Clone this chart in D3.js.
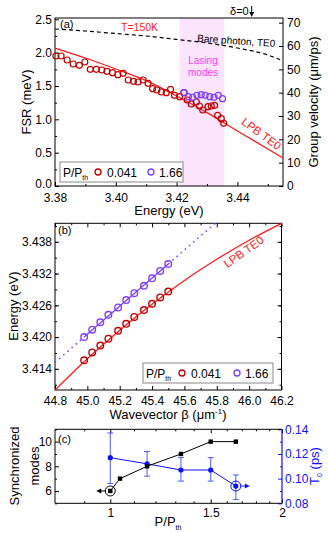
<!DOCTYPE html>
<html>
<head>
<meta charset="utf-8">
<script src="https://cdn.jsdelivr.net/npm/d3@7"></script>
<style>
body{margin:0;background:#fff}
svg{display:block;font-family:"Liberation Sans",Arial,sans-serif}
</style>
</head>
<body>
<script>
// ---- panel (a): FSR vs energy
const energyA041 = [3.3803,3.3820,3.3840,3.3860,3.3880,3.3898,3.3916,3.3936,3.3954,3.3971,3.3989,3.4007,3.4024,3.4041,3.4058,3.4073,3.4090,3.4106,3.4121,3.4135,3.4150,3.4166,3.4180,3.4193,3.4210,3.4224,3.4235,3.4248,3.4265,3.4275,3.4286,3.4303,3.4314,3.4325,3.4335,3.4347,3.4355]
const fsrA041 = [1.95,1.95,1.89,1.83,1.81,1.86,1.75,1.75,1.74,1.72,1.70,1.67,1.69,1.59,1.57,1.56,1.59,1.54,1.46,1.44,1.41,1.40,1.45,1.36,1.34,1.40,1.29,1.23,1.26,1.20,1.14,1.19,1.20,1.21,1.06,1.01,0.94]
const energyA166 = [3.4225,3.4239,3.4253,3.4267,3.4281,3.4294,3.4309,3.4323,3.4337,3.4351]
const fsrA166 = [1.40,1.34,1.33,1.36,1.37,1.36,1.34,1.33,1.36,1.31]
const lpbEnergyA = [3.38,3.39,3.40,3.41,3.42,3.43,3.44,3.455]
const lpbFsrA = [2.07,1.92,1.755,1.58,1.35,1.10,0.825,0.42]
const bareEnergy = [3.38,3.39,3.40,3.41,3.42,3.43,3.44,3.45,3.455]
const bareFsr = [2.355,2.325,2.287,2.25,2.198,2.145,2.07,1.965,1.875]
const lasingBand = [3.421,3.4357]

// ---- panel (b): dispersion
const betaB = [44.98,45.03,45.08,45.13,45.19,45.24,45.29,45.35,45.40,45.45,45.50]
const energyB041 = [3.4156,3.4171,3.4184,3.4197,3.4212,3.4225,3.4238,3.4251,3.4263,3.4275,3.4286]
const energyB166 = [3.4200,3.4214,3.4228,3.4242,3.4256,3.4270,3.4283,3.4297,3.4311,3.4325,3.4338]
const lpbBeta = [44.8,45.0,45.2,45.4,45.6,45.8,46.0,46.2]
const lpbEnergyB = [3.4100,3.4159,3.4213,3.4262,3.4307,3.4347,3.4383,3.4415]
const fitBeta = [44.8,44.98,45.50,45.79]
const fitEnergy = [3.4152,3.4200,3.4338,3.4415]

// ---- panel (c): synchronisation vs pump
const syncP = [1,1.04,1.16,1.33,1.5,1.66]
const syncModes = [6,7,8,9,10,10]
const t0P = [1,1.16,1.33,1.5,1.66]
const t0 = [0.117,0.112,0.107,0.107,0.094]
const t0Lo = [0.096,0.102,0.098,0.098,0.083]
const t0Hi = [0.137,0.122,0.117,0.117,0.103]

const RED = "#ff1a1a", DARKRED = "#c00000", PURPLE = "#7f3fff", BLUE = "#1010ff"

const svg = d3.select("body").append("svg").attr("width",328).attr("height",533)
svg.append("rect").attr("width",328).attr("height",533).attr("fill","#fff")

const zip = (a,b) => a.map((d,i)=>[d,b[i]])

// draws an axis with inward ticks, no domain line
function drawAxis(transform, axis, color, fs) {
    const g = svg.append("g").attr("transform",transform).call(axis)
    g.attr("font-family",null).attr("font-size",null)
    g.select(".domain").remove()
    g.selectAll("line").attr("stroke",color||"#000")
    g.selectAll("text").attr("fill",color||"#000").style("font-size",(fs||12)+"px")
    return g
}
function label(x,y,txt,opt) {
    opt = opt || {}
    const t = svg.append("text")
        .attr("transform",`translate(${x},${y}) rotate(${opt.rot||0})`)
        .attr("text-anchor",opt.anchor||"middle")
        .attr("fill",opt.color||"#000")
        .style("font-size",(opt.size||13)+"px")
        .text(txt)
    return t
}
function sub(t,s,dy) {
    t.append("tspan").attr("dy",dy||3).style("font-size","7px").text(s)
    return t
}
function legend(x,y,w,cx1,cx2) {
    svg.append("rect").attr("x",x).attr("y",y).attr("width",w).attr("height",20)
        .attr("fill","#fff").attr("stroke","#888").attr("stroke-width",1)
    sub(label(x+3,y+15,"P/P",{anchor:"start",size:12}),"th",3)
    svg.append("circle").attr("cx",cx1).attr("cy",y+10).attr("r",3)
        .attr("fill","none").attr("stroke",DARKRED).attr("stroke-width",1.3)
    label(cx1+9,y+15,"0.041",{anchor:"start",size:12})
    svg.append("circle").attr("cx",cx2).attr("cy",y+10).attr("r",3)
        .attr("fill","none").attr("stroke",PURPLE).attr("stroke-width",1.3)
    label(cx2+8,y+15,"1.66",{anchor:"start",size:12})
}

// =================== panel (a)
const xA = d3.scaleLinear().domain([3.38,3.455]).range([55,283])
const yA = d3.scaleLinear().domain([0,2.52]).range([186,18])
const gvA = d3.scaleLinear().domain([0,72]).range([186,18])

svg.append("rect").attr("x",xA(lasingBand[0])).attr("y",18)
    .attr("width",xA(lasingBand[1])-xA(lasingBand[0])).attr("height",168)
    .attr("fill","#fde4fd")

const leftA = drawAxis("translate(55,0)", d3.axisLeft(yA).tickValues(d3.range(0,2.51,0.5)).tickFormat(d3.format(".1f")).tickSizeInner(-4).tickSizeOuter(0).tickPadding(3))
// lift the 0.0 label a touch so it clears the 3.38 below it
leftA.selectAll(".tick text").filter(d=>d===0).attr("dy","0.15em")
drawAxis("translate(55,0)", d3.axisLeft(yA).tickValues(d3.range(0.25,2.5,0.5)).tickFormat("").tickSize(-2))
drawAxis("translate(283,0)", d3.axisRight(gvA).tickValues(d3.range(0,71,10)).tickSizeInner(-4).tickSizeOuter(0).tickPadding(4))
drawAxis("translate(0,186)", d3.axisBottom(xA).tickValues([3.38,3.40,3.42,3.44]).tickFormat(d3.format(".2f")).tickSizeInner(-4).tickSizeOuter(0).tickPadding(7))
drawAxis("translate(0,186)", d3.axisBottom(xA).tickValues([3.39,3.41,3.43,3.45]).tickFormat("").tickSize(-2))
svg.append("rect").attr("x",55).attr("y",18).attr("width",228).attr("height",168)
    .attr("fill","none").attr("stroke","#000").attr("stroke-width",1)

const lineA = d3.line().x(d=>xA(d[0])).y(d=>yA(d[1])).curve(d3.curveMonotoneX)
svg.append("path").datum(zip(bareEnergy,bareFsr)).attr("d",lineA)
    .attr("fill","none").attr("stroke","#000").attr("stroke-width",1.2).attr("stroke-dasharray","4,3")
svg.append("path").datum(zip(lpbEnergyA,lpbFsrA)).attr("d",lineA)
    .attr("fill","none").attr("stroke",RED).attr("stroke-width",1.3)

svg.append("g").selectAll("circle").data(zip(energyA041,fsrA041)).enter().append("circle")
    .attr("cx",d=>xA(d[0])).attr("cy",d=>yA(d[1])).attr("r",3)
    .attr("fill","none").attr("stroke",DARKRED).attr("stroke-width",1.2)
svg.append("g").selectAll("circle").data(zip(energyA166,fsrA166)).enter().append("circle")
    .attr("cx",d=>xA(d[0])).attr("cy",d=>yA(d[1])).attr("r",3)
    .attr("fill","none").attr("stroke",PURPLE).attr("stroke-width",1.2)

label(60,28,"(a)",{anchor:"start",size:11})
label(121,31,"T=150K",{anchor:"start",size:10.5,color:RED})
label(xA(3.4447)-3,15,"δ=0",{anchor:"end",size:11})
svg.append("line").attr("x1",xA(3.4447)).attr("x2",xA(3.4447)).attr("y1",6).attr("y2",13)
    .attr("stroke","#000").attr("stroke-width",1)
svg.append("path").attr("d",`M${xA(3.4447)-2.5},12 L${xA(3.4447)+2.5},12 L${xA(3.4447)},17 Z`).attr("fill","#000")
label(203,64,"Lasing",{size:10,color:"#ff3cff"})
label(203,75.5,"modes",{size:10,color:"#ff3cff"})
label(197,41.5,"Bare photon, TE0",{anchor:"start",size:10,rot:4})
label(259,137,"LPB TE0",{size:11.5,rot:36,color:RED})
legend(60,162,123,98,151)

label(31,102,"FSR (meV)",{rot:-90})
label(318,102,"Group velocity (μm/ps)",{rot:-90})
label(169,215,"Energy (eV)")

// =================== panel (b)
const xB = d3.scaleLinear().domain([44.8,46.2]).range([55,281.5])
const yB = d3.scaleLinear().domain([3.410,3.4415]).range([390,223.3])

const majB = d3.range(3.414,3.4385,0.006), minB = d3.range(3.411,3.4415,0.003)
drawAxis("translate(55,0)", d3.axisLeft(yB).tickValues(majB).tickFormat(d3.format(".3f")).tickSizeInner(-4).tickSizeOuter(0).tickPadding(3))
drawAxis("translate(55,0)", d3.axisLeft(yB).tickValues(minB).tickFormat("").tickSize(-2))
drawAxis("translate(281.5,0)", d3.axisRight(yB).tickValues(majB).tickFormat("").tickSize(-4))
drawAxis("translate(281.5,0)", d3.axisRight(yB).tickValues(minB).tickFormat("").tickSize(-2))
const betaMaj = d3.range(44.8,46.21,0.2), betaMin = d3.range(44.9,46.2,0.2)
drawAxis("translate(0,390)", d3.axisBottom(xB).tickValues(betaMaj).tickFormat(d3.format(".1f")).tickSizeInner(-4).tickSizeOuter(0).tickPadding(6))
drawAxis("translate(0,390)", d3.axisBottom(xB).tickValues(betaMin).tickFormat("").tickSize(-2))
drawAxis("translate(0,223.3)", d3.axisTop(xB).tickValues(betaMaj).tickFormat("").tickSize(-4))
drawAxis("translate(0,223.3)", d3.axisTop(xB).tickValues(betaMin).tickFormat("").tickSize(-2))
svg.append("rect").attr("x",55).attr("y",223.3).attr("width",226.5).attr("height",166.7)
    .attr("fill","none").attr("stroke","#000").attr("stroke-width",1)

const lineB = d3.line().x(d=>xB(d[0])).y(d=>yB(d[1]))
svg.append("path").datum(zip(lpbBeta,lpbEnergyB)).attr("d",lineB.curve(d3.curveMonotoneX))
    .attr("fill","none").attr("stroke",RED).attr("stroke-width",1.3)
const fit = zip(fitBeta,fitEnergy)
const lineLin = d3.line().x(d=>xB(d[0])).y(d=>yB(d[1]))
svg.append("path").datum(fit.slice(1,3)).attr("d",lineLin)
    .attr("fill","none").attr("stroke",PURPLE).attr("stroke-width",1.3)
svg.append("path").datum(fit.slice(0,2)).attr("d",lineLin)
    .attr("fill","none").attr("stroke",PURPLE).attr("stroke-width",1.6).attr("stroke-dasharray","1.5,4")
svg.append("path").datum(fit.slice(2,4)).attr("d",lineLin)
    .attr("fill","none").attr("stroke",PURPLE).attr("stroke-width",1.6).attr("stroke-dasharray","1.5,4")

svg.append("g").selectAll("circle").data(zip(betaB,energyB041)).enter().append("circle")
    .attr("cx",d=>xB(d[0])).attr("cy",d=>yB(d[1])).attr("r",3.3)
    .attr("fill","none").attr("stroke",DARKRED).attr("stroke-width",1.4)
svg.append("g").selectAll("circle").data(zip(betaB,energyB166)).enter().append("circle")
    .attr("cx",d=>xB(d[0])).attr("cy",d=>yB(d[1])).attr("r",3.3)
    .attr("fill","none").attr("stroke",PURPLE).attr("stroke-width",1.4)

label(58,234,"(b)",{anchor:"start",size:11})
label(246,255,"LPB TE0",{size:11.5,rot:-35,color:RED})
legend(143,363,130,182,237)

label(18,306,"Energy (eV)",{rot:-90})
const wl = label(168,419,"Wavevector β (μm",{size:13})
wl.append("tspan").attr("dy",-5).style("font-size","8px").text("-1")
wl.append("tspan").attr("dy",5).text(")")

// =================== panel (c)
const xC = d3.scaleLog().domain([0.8,2]).range([55,282])
const yC = d3.scaleLinear().domain([5,11]).range([503.3,429.3])
const tC = d3.scaleLinear().domain([0.08,0.14]).range([503.3,429.3])

drawAxis("translate(55,0)", d3.axisLeft(yC).tickValues([6,8,10]).tickFormat(d3.format("d")).tickSizeInner(-4).tickSizeOuter(0).tickPadding(3))
drawAxis("translate(55,0)", d3.axisLeft(yC).tickValues([5,7,9,11]).tickFormat("").tickSize(-2))
drawAxis("translate(282,0)", d3.axisRight(tC).tickValues([0.08,0.10,0.12,0.14]).tickFormat(d3.format(".2f")).tickSizeInner(-4).tickSizeOuter(0).tickPadding(3), BLUE)
drawAxis("translate(282,0)", d3.axisRight(tC).tickValues([0.09,0.11,0.13]).tickFormat("").tickSize(-2), BLUE)
const pMin = [0.9,1.1,1.2,1.3,1.4,1.6,1.7,1.8,1.9]
drawAxis("translate(0,503.3)", d3.axisBottom(xC).tickValues([1,1.5,2]).tickFormat(d=>d).tickSizeInner(-4).tickSizeOuter(0).tickPadding(5))
drawAxis("translate(0,503.3)", d3.axisBottom(xC).tickValues(pMin).tickFormat("").tickSize(-2))
drawAxis("translate(0,429.3)", d3.axisTop(xC).tickValues([1,1.5,2]).tickFormat("").tickSize(-4))
drawAxis("translate(0,429.3)", d3.axisTop(xC).tickValues(pMin).tickFormat("").tickSize(-2))
svg.append("path").attr("d","M282,429.3 H55 V503.3 H282").attr("fill","none").attr("stroke","#000")
svg.append("line").attr("x1",282).attr("x2",282).attr("y1",429.3).attr("y2",503.3).attr("stroke",BLUE).attr("stroke-width",1.2)

// blue T0 with error bars
const t0Data = t0P.map((p,i)=>({p:p,v:t0[i],lo:t0Lo[i],hi:t0Hi[i]}))
svg.append("path").datum(t0Data).attr("d",d3.line().x(d=>xC(d.p)).y(d=>tC(d.v)))
    .attr("fill","none").attr("stroke",BLUE).attr("stroke-width",1)
const eb = svg.append("g").selectAll("g").data(t0Data).enter().append("g")
eb.append("line").attr("x1",d=>xC(d.p)).attr("x2",d=>xC(d.p)).attr("y1",d=>tC(d.lo)).attr("y2",d=>tC(d.hi))
    .attr("stroke","#4a5cff").attr("stroke-width",1)
eb.append("line").attr("x1",d=>xC(d.p)-3).attr("x2",d=>xC(d.p)+3).attr("y1",d=>tC(d.lo)).attr("y2",d=>tC(d.lo))
    .attr("stroke","#4a5cff").attr("stroke-width",1)
eb.append("line").attr("x1",d=>xC(d.p)-3).attr("x2",d=>xC(d.p)+3).attr("y1",d=>tC(d.hi)).attr("y2",d=>tC(d.hi))
    .attr("stroke","#4a5cff").attr("stroke-width",1)
eb.append("circle").attr("cx",d=>xC(d.p)).attr("cy",d=>tC(d.v)).attr("r",2.6).attr("fill",BLUE)

// black synchronized modes
const sync = zip(syncP,syncModes)
svg.append("path").datum(sync).attr("d",d3.line().x(d=>xC(d[0])).y(d=>yC(d[1])))
    .attr("fill","none").attr("stroke","#000").attr("stroke-width",1)
svg.append("g").selectAll("rect").data(sync).enter().append("rect")
    .attr("x",d=>xC(d[0])-2.2).attr("y",d=>yC(d[1])-2.2).attr("width",4.4).attr("height",4.4).attr("fill","#000")

// circled points with arrows pointing to their axes
const s0 = sync[0], tLast = t0Data[t0Data.length-1]
svg.append("circle").attr("cx",xC(s0[0])).attr("cy",yC(s0[1])).attr("r",5).attr("fill","none").attr("stroke","#000").attr("stroke-width",1)
svg.append("line").attr("x1",xC(s0[0])-5).attr("x2",xC(s0[0])-10).attr("y1",yC(s0[1])).attr("y2",yC(s0[1])).attr("stroke","#000")
svg.append("path").attr("d",`M${xC(s0[0])-9},${yC(s0[1])-2.5} L${xC(s0[0])-14},${yC(s0[1])} L${xC(s0[0])-9},${yC(s0[1])+2.5} Z`).attr("fill","#000")
svg.append("circle").attr("cx",xC(tLast.p)).attr("cy",tC(tLast.v)).attr("r",5).attr("fill","none").attr("stroke",BLUE).attr("stroke-width",1)
svg.append("line").attr("x1",xC(tLast.p)+5).attr("x2",xC(tLast.p)+10).attr("y1",tC(tLast.v)).attr("y2",tC(tLast.v)).attr("stroke",BLUE)
svg.append("path").attr("d",`M${xC(tLast.p)+9},${tC(tLast.v)-2.5} L${xC(tLast.p)+14},${tC(tLast.v)} L${xC(tLast.p)+9},${tC(tLast.v)+2.5} Z`).attr("fill",BLUE)

label(58,443,"(c)",{anchor:"start",size:11})
label(19,466,"Synchronized",{rot:-90})
label(39,466,"modes",{rot:-90})
sub(label(319,466,"T",{rot:-90,color:BLUE}),"0",3).append("tspan").attr("dy",-3).text(" (ps)")
sub(label(168,526,"P/P",{size:13}),"th",4)
</script>
</body>
</html>
